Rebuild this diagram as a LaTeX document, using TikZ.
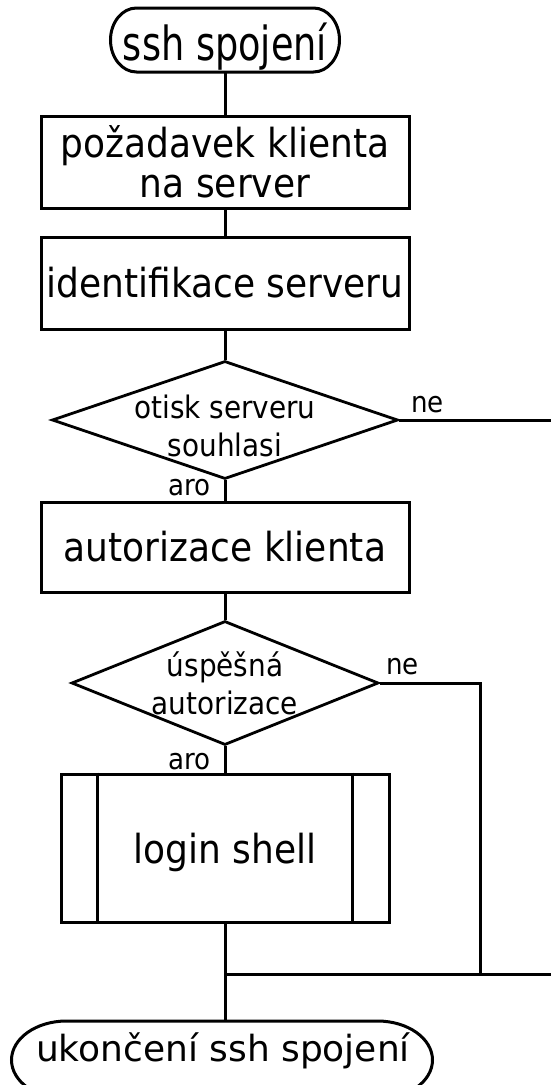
\documentclass[tikz,border=0pt]{standalone}
\usepackage{fontspec}
\setmainfont{DejaVu Sans}
\newfontfamily\fA[FakeStretch=0.78]{DejaVu Sans}
\newfontfamily\fB[FakeStretch=0.9]{DejaVu Sans}
\usetikzlibrary{shapes.geometric}
\begin{document}
\begin{tikzpicture}[x=1pt,y=-1pt,
  ln/.style={line width=3pt},
  hidden/.style={inner sep=0pt, outer sep=0pt},
  stepbox/.style={draw, line width=3pt, rectangle, minimum width=368pt, minimum height=92pt, inner sep=0pt, align=center, font=\fB\fontsize{40}{40}\selectfont},
  dec/.style={draw, diamond, line width=2.8pt, inner sep=0pt},
  dtext/.style={inner sep=0pt, align=center, font=\fB\fontsize{31}{38}\selectfont},
  lbl/.style={inner sep=0pt, font=\fB\fontsize{29}{30}\selectfont},
  termtext/.style={inner sep=0pt}]
\useasboundingbox (0,0) rectangle (550,1085);

% start terminal
\node[hidden, minimum width=229pt, minimum height=64pt] (start) at (225,40) {};
\draw[ln] ([xshift=26pt]start.north west) -- ([xshift=-26pt]start.north east)
  arc[start angle=90, end angle=-90, x radius=26pt, y radius=32pt]
  -- ([xshift=26pt]start.south west)
  arc[start angle=270, end angle=90, x radius=26pt, y radius=32pt] -- cycle;
\node[termtext, anchor=base, font=\fA\fontsize{47}{50}\selectfont] (startt) at (225,60) {ssh spojení};

% boxes
\node[stepbox] (b1) at (225,162) {požadavek klienta\\na server};
\node[stepbox] (b2) at (225,283) {identifikace serveru};
\node[dec, minimum width=346pt, minimum height=118pt] (d1) at (225,420) {};
\node[dtext] (d1t) at (225,426) {otisk serveru\\souhlasi};
\node[stepbox, minimum height=90pt] (b3) at (225,547) {autorizace klienta};
\node[dec, minimum width=307pt, minimum height=124pt] (d2) at (225,683) {};
\node[dtext] (d2t) at (225,683) {úspěšná\\autorizace};

% predefined process
\node[draw, line width=3pt, minimum width=328pt, minimum height=148pt, inner sep=0pt, text depth=0pt, font=\fB\fontsize{40}{40}\selectfont] (shell) at (225,848) {login shell};
\draw[ln] ([xshift=38pt]shell.north west) -- ([xshift=38pt]shell.south west);
\draw[ln] ([xshift=-38pt]shell.north east) -- ([xshift=-38pt]shell.south east);

% end terminal
\node[hidden, minimum width=421pt, minimum height=78pt] (finish) at (222,1060) {};
\draw[ln] ([xshift=55pt]finish.north west) -- ([xshift=-55pt]finish.north east)
  arc[start angle=90, end angle=-90, x radius=55pt, y radius=39pt]
  -- ([xshift=55pt]finish.south west)
  arc[start angle=270, end angle=90, x radius=55pt, y radius=39pt] -- cycle;
\node[termtext, anchor=base, font=\fontsize{36}{40}\selectfont] (finisht) at (223,1061) {ukončení ssh spojení};

% labels
\node[lbl, anchor=base west] (ne1) at (411,412) {ne};
\node[lbl, anchor=base east] (ano1) at (211,495) {aro};
\node[lbl, anchor=base west] (ne2) at (386,674) {ne};
\node[lbl, anchor=base east] (ano2) at (211,769) {aro};

% connectors
\coordinate (r1) at (553,420);
\coordinate (r2) at (553,974);
\coordinate (j) at (225,974);
\coordinate (c2) at (480,974);
\draw[ln] (start.south) -- (b1.north);
\draw[ln] (b1) -- (b2);
\draw[ln] (b2) -- (d1);
\draw[ln] (d1) -- (b3);
\draw[ln] (b3) -- (d2);
\draw[ln] (d2) -- (shell);
\draw[ln] (shell) -- (j) -- (j |- finish.north);
\draw[ln] (d1.east) -- (r1);
\draw[ln] (d2.east) -| (c2);
\draw[ln] (r2) -- (j);
\end{tikzpicture}
\end{document}
